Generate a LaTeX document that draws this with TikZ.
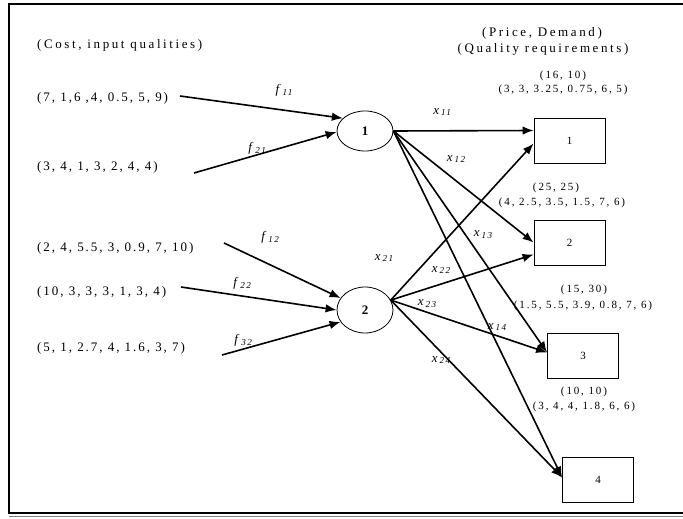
\documentclass[tikz,border=0pt]{standalone}
\usepackage{fontspec}
\setmainfont{Liberation Serif}
\newfontfamily\srcfont[LetterSpace=15]{Liberation Serif}
\newfontfamily\hdrfont[LetterSpace=20]{Liberation Serif}
\newfontfamily\reqfont[LetterSpace=17]{Liberation Serif}
\usetikzlibrary{arrows.meta,shapes.geometric,calc}
\newcommand\flowlbl[2]{\textit{#1}\textsubscript{\textit{#2}}}
\tikzset{
  srclbl/.style={anchor=west, inner sep=0pt, font=\srcfont\fontsize{13}{15}\selectfont},
  hdrlbl/.style={inner sep=0pt, font=\hdrfont\fontsize{13}{15}\selectfont},
  reqlbl/.style={inner sep=0pt, font=\reqfont\fontsize{11}{13}\selectfont},
  edgelbl/.style={inner sep=0pt, font=\srcfont\fontsize{13}{15}\selectfont},
  pool/.style={ellipse, draw, line width=0.8pt, inner sep=0pt,
    minimum width=56pt, font=\fontsize{13}{15}\selectfont\bfseries},
  product/.style={rectangle, draw, line width=0.8pt, inner sep=0pt,
    minimum width=71pt, minimum height=45pt, font=\fontsize{11}{13}\selectfont},
  flow/.style={line width=1.6pt, -{Latex[length=11pt,width=8.5pt]}},
  frame/.style={line width=2pt}
}
\begin{document}
\begin{tikzpicture}[x=1pt,y=-1pt]
\useasboundingbox (0,0) rectangle (683,519);

% outer frame
\draw[frame] (683,4) -- (9,4) -- (9,513) -- (683,513);
\draw[gray, line width=1.2pt] (9,516.5) -- (683,516.5);

% headings
\node[hdrlbl, anchor=west] (cost) at (37,45) {(Cost, input qualities)};
\node[hdrlbl] (price) at (542,33) {(Price, Demand)};
\node[hdrlbl] (qual) at (543,49) {(Quality requirements)};

% raw materials
\node[srclbl] (s1) at (37,98) {(7, 1,6 ,4, 0.5, 5, 9)};
\node[srclbl] (s2) at (37,167) {(3, 4, 1, 3, 2, 4, 4)};
\node[srclbl] (s3) at (37,248) {(2, 4, 5.5, 3, 0.9, 7, 10)};
\node[srclbl] (s4) at (37,292) {(10, 3, 3, 3, 1, 3, 4)};
\node[srclbl] (s5) at (37,348) {(5, 1, 2.7, 4, 1.6, 3, 7)};

\coordinate (t1) at (180,96);
\coordinate (t2) at (194,173);
\coordinate (t3) at (224,243);
\coordinate (t4) at (181,287);
\coordinate (t5) at (222,355);

% pools
\node[pool, minimum height=40pt] (c1) at (365,131) {1};
\node[pool, minimum height=46pt] (c2) at (365,310) {2};

% products
\node[product] (b1) at (569.5,140.5) {1};
\node[product] (b2) at (569.5,242.5) {2};
\node[product] (b3) at (583,355.5) {3};
\node[product] (b4) at (598,479.5) {4};

% product price/demand and quality requirements
\node[reqlbl] (d1a) at (563,76) {(16, 10)};
\node[reqlbl] (d1b) at (563,90) {(3, 3, 3.25, 0.75, 6, 5)};
\node[reqlbl] (d2a) at (556,188) {(25, 25)};
\node[reqlbl] (d2b) at (562,203) {(4, 2.5, 3.5, 1.5, 7, 6)};
\node[reqlbl] (d3a) at (584,290) {(15, 30)};
\node[reqlbl] (d3b) at (583,306) {(1.5, 5.5, 3.9, 0.8, 7, 6)};
\node[reqlbl] (d4a) at (584,392) {(10, 10)};
\node[reqlbl] (d4b) at (584,407) {(3, 4, 4, 1.8, 6, 6)};

% flow labels
\node[edgelbl] (lf11) at (285,90) {\flowlbl{f}{11}};
\node[edgelbl] (lf21) at (258,148) {\flowlbl{f}{21}};
\node[edgelbl] (lf12) at (271,237) {\flowlbl{f}{12}};
\node[edgelbl] (lf22) at (243,283) {\flowlbl{f}{22}};
\node[edgelbl] (lf32) at (244,340) {\flowlbl{f}{32}};
\node[edgelbl] (lx11) at (443,112) {\flowlbl{x}{11}};
\node[edgelbl] (lx12) at (457,159) {\flowlbl{x}{12}};
\node[edgelbl] (lx13) at (484,235) {\flowlbl{x}{13}};
\node[edgelbl] (lx14) at (498,327) {\flowlbl{x}{14}};
\node[edgelbl] (lx21) at (385,258) {\flowlbl{x}{21}};
\node[edgelbl] (lx22) at (442,270) {\flowlbl{x}{22}};
\node[edgelbl] (lx23) at (428,304) {\flowlbl{x}{23}};
\node[edgelbl] (lx24) at (442,360) {\flowlbl{x}{24}};

% raw material to pool flows
\draw[flow] (t1) -- (c1.150);
\draw[flow] (t2) -- (c1.182);
\draw[flow] (t3) -- (c2.154);
\draw[flow] (t4) -- (c2.180);
\draw[flow] (t5) -- (c2.206);

% pool to product flows
\draw[flow] (c1.east) -- ($(b1.west)+(0,-10)$);
\draw[flow] (c1.east) -- (b2.west);
\draw[flow] (c1.east) -- ($(b3.west)+(0,-3)$);
\draw[flow] (c1.east) -- ($(b4.west)+(0,-2)$);
\draw[flow] (c2.21) -- ($(b1.west)+(0,3)$);
\draw[flow] (c2.21) -- ($(b2.west)+(0,12)$);
\draw[flow] (c2.21) -- ($(b3.west)+(0,-3)$);
\draw[flow] (c2.21) -- ($(b4.west)+(0,-2)$);
\end{tikzpicture}
\end{document}
